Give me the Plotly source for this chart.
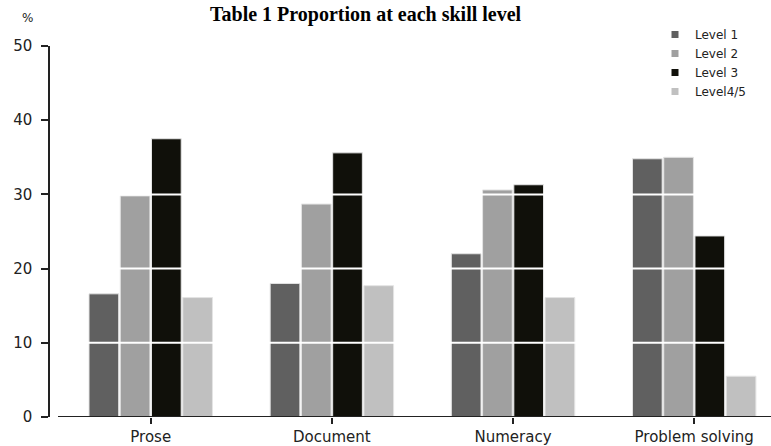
import plotly.graph_objects as go

categories = ["Prose", "Document", "Numeracy", "Problem solving"]
series_names = ["Level 1", "Level 2", "Level 3", "Level4/5"]
level1 = [16.6, 18.0, 22.0, 34.8]
level2 = [29.8, 28.7, 30.6, 35.0]
level3 = [37.5, 35.6, 31.3, 24.4]
level45 = [16.1, 17.7, 16.1, 5.5]
y_ticks = [0, 10, 20, 30, 40, 50]
grid_values = [10, 20, 30, 40]
title_text = "Table 1 Proportion at each skill level"

colors = ["#606060", "#a0a0a0", "#10100a", "#c0c0c0"]
series_values = [level1, level2, level3, level45]

W, H = 771, 446
ml, mr, mt, mb = 50, 0, 46, 29
pw = W - ml - mr
ph = H - mt - mb

FONT = "DejaVu Sans"

fig = go.Figure()
for name, vals, col in zip(series_names, series_values, colors):
    fig.add_trace(go.Bar(
        x=categories, y=vals, name=name, showlegend=False,
        marker=dict(color=col, line=dict(color="#e4e4e4", width=1)),
        hoverinfo="x+y+name",
    ))
for name, col in zip(series_names, colors):
    fig.add_trace(go.Scatter(
        x=[None], y=[None], name=name, mode="markers",
        marker=dict(symbol="square", size=7, color=col),
    ))

shapes = []
for g in grid_values:
    shapes.append(dict(type="line", xref="paper", yref="y", x0=0, x1=1, y0=g, y1=g,
                       line=dict(color="#ffffff", width=2), layer="above"))
# x axis baseline (starts slightly right of the y axis)
shapes.append(dict(type="line", xref="paper", yref="y", x0=8 / pw, x1=1, y0=0, y1=0,
                   line=dict(color="#222222", width=2), layer="above"))

fig.update_layout(
    width=W, height=H,
    margin=dict(l=ml, r=mr, t=mt, b=mb, pad=0),
    paper_bgcolor="white", plot_bgcolor="white",
    barmode="group", bargap=0.31, bargroupgap=0.05,
    font=dict(family=FONT, color="#222222", size=15),
    xaxis=dict(
        type="category", range=[-0.556, 3.424],
        showline=False, showgrid=False, zeroline=False,
        ticks="outside", ticklen=6, tickwidth=1.5, tickcolor="#222222",
        tickfont=dict(family=FONT, size=15, color="#222222"),
    ),
    yaxis=dict(
        range=[0, 50], tickvals=y_ticks, ticktext=[str(v) for v in y_ticks],
        showline=True, linecolor="#222222", linewidth=1.5,
        showgrid=False, zeroline=False,
        ticks="outside", ticklen=7, tickwidth=1.5, tickcolor="#222222",
        tickfont=dict(family=FONT, size=15, color="#222222"),
        ticklabelstandoff=6,
    ),
    legend=dict(
        x=(655 - ml) / pw, y=1 + (mt - 20) / ph, xanchor="left", yanchor="top",
        font=dict(family=FONT, size=12, color="#222222"),
        bgcolor="rgba(0,0,0,0)", itemwidth=30, tracegroupgap=0,
        itemclick=False,
    ),
    shapes=shapes,
    annotations=[
        dict(text="<b>" + title_text + "</b>", xref="paper", yref="paper",
             x=(366 - ml) / pw, y=1 + (mt - 1) / ph, xanchor="center", yanchor="top",
             showarrow=False, font=dict(family="Liberation Serif", size=20, color="#000000")),
        dict(text="%", xref="paper", yref="paper",
             x=(27 - ml) / pw, y=1 + (mt - 18) / ph, xanchor="center", yanchor="middle",
             showarrow=False, font=dict(family=FONT, size=12, color="#222222")),
    ],
)

fig.write_html("out.html")
